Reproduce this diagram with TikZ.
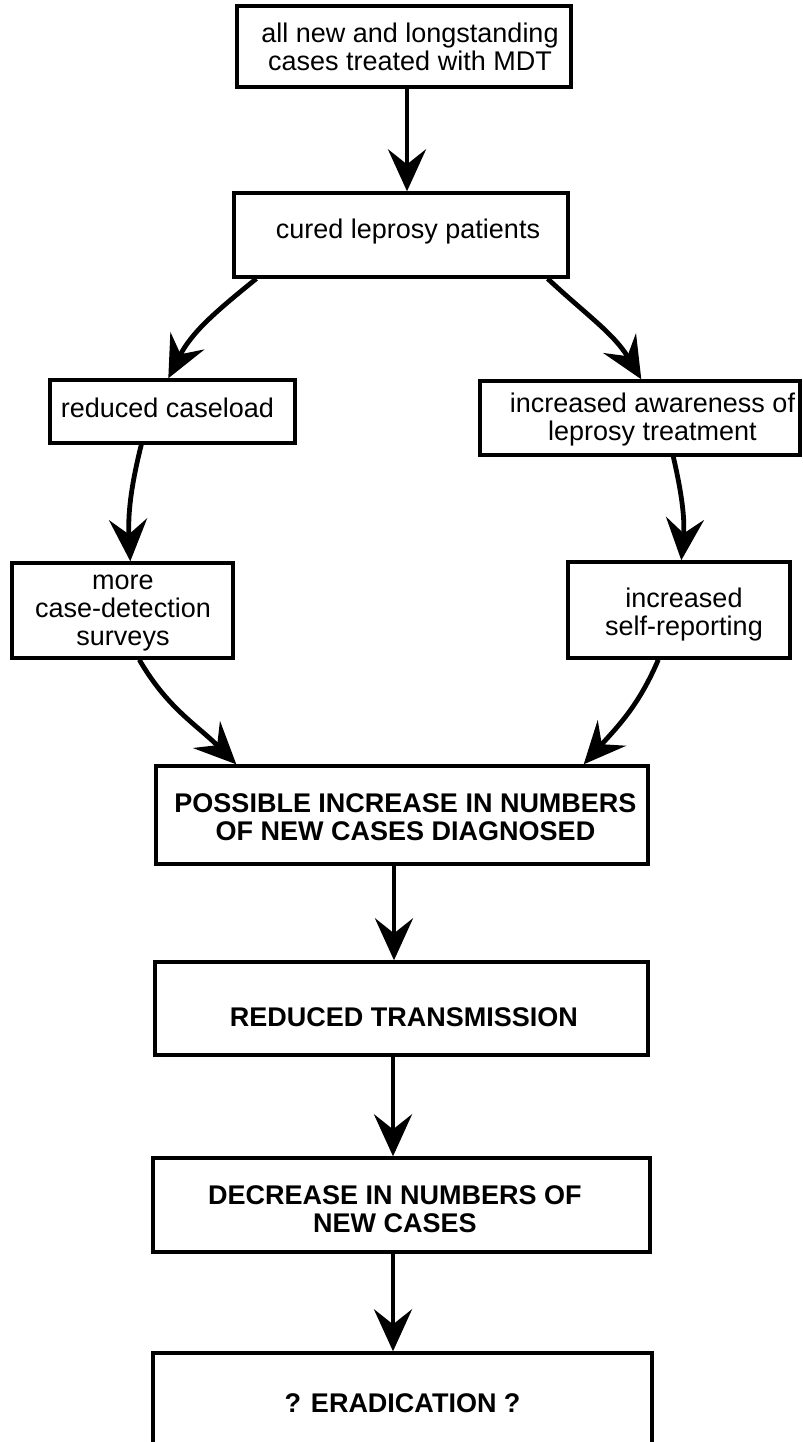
\documentclass[tikz,border=0pt]{standalone}
\usepackage{fontspec}
\setmainfont{Liberation Sans}
\usetikzlibrary{arrows.meta}
\begin{document}
\begin{tikzpicture}[x=0.5pt,y=0.5pt,
  box/.style={draw, line width=1.7pt, inner sep=0pt},
  lbl/.style={inner sep=0pt, align=center, font=\fontsize{13.5pt}{14pt}\selectfont},
  blbl/.style={lbl, font=\fontsize{13.5pt}{14pt}\selectfont\bfseries},
  arr/.style={line width=2.4pt, -{Stealth[length=21pt,width=19pt,inset=7.5pt]}}
]
\useasboundingbox (0,0) rectangle (803,-1442);
\fill[white] (0,0) rectangle (803,-1442);
\clip (0,0) rectangle (803,-1442);

% boxes
\node[box, minimum width=167pt, minimum height=40.5pt] (b1) at (404,-46.5) {};
\node[box, minimum width=167pt, minimum height=42pt] (b2) at (401,-235) {};
\node[box, minimum width=122.5pt, minimum height=31.5pt] (b3) at (172.5,-411.5) {};
\node[box, minimum width=160pt, minimum height=37pt] (b4) at (640,-418) {};
\node[box, minimum width=110.5pt, minimum height=47.5pt] (b5) at (122.5,-610.5) {};
\node[box, minimum width=111pt, minimum height=48pt] (b6) at (679,-610) {};
\node[box, minimum width=246pt, minimum height=49pt] (b7) at (402,-815) {};
\node[box, minimum width=246.5pt, minimum height=46.5pt] (b8) at (401.5,-1008.5) {};
\node[box, minimum width=248.5pt, minimum height=47pt] (b9) at (401.5,-1205) {};
\node[box, minimum width=249.5pt, minimum height=63.5pt] (b10) at (402.5,-1416.5) {};

% texts
\node[lbl] (t1) at (410,-50.4) {\strut all new and longstanding\\cases treated with MDT\strut};
\node[lbl] (t2) at (408,-232.4) {\strut cured leprosy patients\strut};
\node[lbl] (t3) at (167.5,-411.4) {\strut reduced caseload\strut};
\node[lbl] (t4) at (652.5,-420.4) {\strut increased awareness of\\leprosy treatment\strut};
\node[lbl] (t5) at (123,-611.9) {\strut more\\case-detection\\surveys\strut};
\node[lbl] (t6) at (684,-615.9) {\strut increased\\self-reporting\strut};
\node[blbl] (t7) at (405.5,-820.4) {\strut POSSIBLE INCREASE IN NUMBERS\\OF NEW CASES DIAGNOSED\strut};
\node[blbl] (t8) at (404,-1020.4) {\strut REDUCED TRANSMISSION\strut};
\node[blbl] (t9) at (395,-1212.9) {\strut DECREASE IN NUMBERS OF\\NEW CASES\strut};
\node[blbl] (t10) at (402.5,-1406.4) {\strut ? ERADICATION ?\strut};

% connectors
\draw[arr] ([xshift=1.5pt]b1.south) -- ([xshift=1.5pt]b1.south |- b2.north);
\draw[arr] ([xshift=12pt]b2.south west) to[out=219,in=63] ([xshift=60pt]b3.north west);
\draw[arr] ([xshift=-11pt]b2.south east) to[out=-43,in=121] ([xshift=81.5pt]b4.north west);
\draw[arr] ([xshift=46.5pt]b3.south west) to[out=-104,in=93] ([xshift=60pt]b5.north west);
\draw[arr] ([xshift=97.5pt]b4.south west) to[out=-77,in=85] ([xshift=57.5pt]b6.north west);
\draw[arr] ([xshift=64.5pt]b5.south west) to[out=-60,in=135] ([xshift=41pt]b7.north west);
\draw[arr] ([xshift=46pt]b6.south west) to[out=-113,in=48] ([xshift=-33pt]b7.north east);
\draw[arr] ([xshift=-4pt]b7.south) -- ([xshift=-4pt]b7.south |- b8.north);
\draw[arr] ([xshift=-4.25pt]b8.south) -- ([xshift=-4.25pt]b8.south |- b9.north);
\draw[arr] ([xshift=-4.25pt]b9.south) -- ([xshift=-4.25pt]b9.south |- b10.north);
\end{tikzpicture}
\end{document}
